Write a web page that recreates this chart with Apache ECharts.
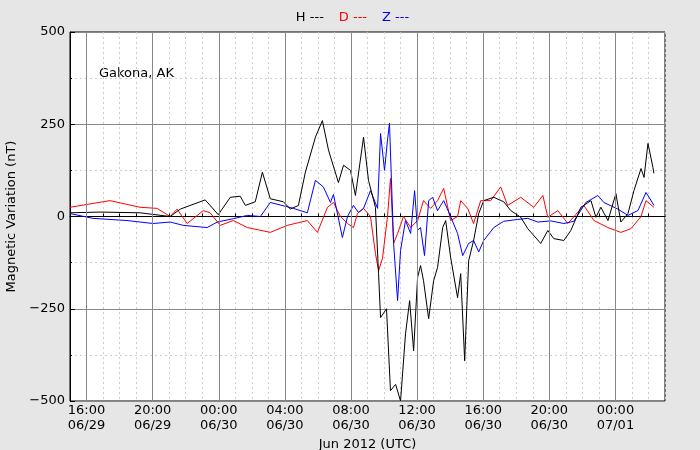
<!DOCTYPE html>
<html><head><meta charset="utf-8">
<script src="https://cdn.jsdelivr.net/npm/echarts@6/dist/echarts.min.js"></script>
<style>html,body{margin:0;background:#e6e6e6}#c{width:700px;height:450px}</style>
</head><body><div id="c"></div>
<script>
// hours since 15:00 UTC 06/29/2012
const hT=[0,1.82,4.24,6.06,6.67,8.18,8.97,9.70,10.30,10.61,11.21,11.64,12.12,12.91,13.33,13.82,14.24,14.85,15.27,15.64,16.24,16.55,16.97,17.27,17.76,18.06,18.48,18.67,18.79,19.15,19.39,19.70,20.00,20.30,20.55,20.79,21.03,21.21,21.39,21.70,22.00,22.24,22.55,22.73,23.03,23.45,23.64,23.88,24.12,24.42,24.73,25.03,25.64,26.24,26.67,27.27,27.70,28.48,28.91,29.27,29.88,30.30,30.91,31.52,31.82,32.12,32.55,33.03,33.33,33.76,34.12,34.55,34.73,34.97,35.27,35.33];
const hV=[10,12,10,0,20,45,5,52,55,30,40,120,48,40,20,30,120,215,260,180,92,139,125,57,215,98,25,-155,-274,-250,-472,-455,-500,-318,-228,-364,-165,-133,-174,-277,-174,-138,-30,-11,-111,-220,-155,-391,-120,-65,8,43,52,40,16,-2,-33,-73,-38,-60,-65,-38,25,43,-2,25,-11,62,-15,8,70,130,106,198,133,117];
const dT=[0,2.42,4.24,5.27,6.06,6.48,7.09,8.06,8.48,9.09,9.88,10.73,12.12,13.15,14.36,14.97,15.58,15.94,16.36,16.79,17.15,17.39,17.76,18.18,18.48,18.67,18.91,19.21,19.39,19.58,19.82,20.18,20.61,21.03,21.39,21.82,22.24,22.61,23.03,23.45,23.64,24.06,24.42,24.85,25.45,26.06,26.48,27.27,28.06,28.61,28.91,29.52,30.12,31.09,31.70,32.55,33.33,33.94,34.55,34.85,35.33];
const dV=[25,43,25,22,0,20,-19,16,10,-24,-11,-30,-43,-24,-11,-43,25,38,0,-19,-30,8,22,0,-100,-147,-113,0,103,-73,-46,0,-30,-11,43,22,43,76,-11,0,43,22,-19,43,43,80,30,52,25,57,-2,16,-19,30,-11,-30,-43,-33,0,43,25];
const zT=[0,1.39,3.45,5.03,6.06,6.85,8.30,8.91,9.88,10.73,11.52,12.12,13.52,14.36,14.85,15.33,15.76,15.94,16.48,16.79,17.15,17.45,17.76,18.18,18.61,18.79,19.03,19.21,19.33,19.58,19.82,20.00,20.30,20.61,20.85,21.03,21.21,21.45,21.70,21.94,22.24,22.61,23.03,23.45,23.76,24.12,24.42,24.73,25.03,25.64,26.24,27.09,27.70,28.30,29.09,29.88,30.48,31.21,31.94,32.30,33.15,33.76,34.36,34.85,35.15,35.33];
const zV=[8,-5,-11,-19,-15,-24,-30,-15,-6,3,0,38,22,10,98,80,38,60,-57,0,30,11,22,70,22,225,125,207,253,-73,-228,-92,-11,-46,70,-37,-30,-106,43,52,16,43,0,-46,-106,-73,-65,-96,-65,-30,-13,-8,-5,-15,-12,-19,-13,38,57,38,20,3,16,65,44,30];
const majorTicks=[16,20,24,28,32,36,40,44,48]; // hours since 00:00 06/29
const seriesNames=['H','D','Z'];
const colors=['#000000','#ff0000','#0000ff'];
const START=15;
const pairs=(t,v)=>t.map((x,i)=>[x+START,v[i]]);
const font='DejaVu Sans';
const chart=echarts.init(document.getElementById('c'));
const fmtX=v=>{if(v%4!==0)return '';const hh=v%24,d=29+Math.floor(v/24);const date=d<=30?'06/'+d:'07/'+String(d-30).padStart(2,'0');return String(hh).padStart(2,'0')+':00\n'+date;};
chart.setOption({
  animation:false,
  textStyle:{fontFamily:font},
  legend:{top:6,left:'center',icon:'none',itemGap:10,itemWidth:0,
    data:seriesNames.map((n,i)=>({name:n,textStyle:{color:colors[i]}})),
    formatter:n=>n+' ---',textStyle:{fontFamily:font,fontSize:13}},
  grid:{left:70,right:35,top:32,bottom:49,containLabel:false,outerBoundsMode:'none',show:true,backgroundColor:'#fff',borderColor:'#000',borderWidth:1},
  xAxis:{type:'value',min:15,max:51,interval:1,name:'Jun 2012 (UTC)',nameLocation:'middle',nameGap:33,
    nameTextStyle:{color:'#000',fontSize:13,fontFamily:font},
    axisLine:{lineStyle:{color:'#000'}},axisTick:{inside:true,length:3,lineStyle:{color:'#000'}},
    axisLabel:{formatter:fmtX,color:'#000',fontSize:13,fontFamily:font,lineHeight:15,margin:2,showMinLabel:false,showMaxLabel:false},
    splitLine:{show:true,lineStyle:{color:'#cfcfcf',type:[2,3]}}},
  yAxis:{type:'value',min:-500,max:500,interval:250,name:'Magnetic Variation (nT)',nameLocation:'middle',nameGap:22,
    nameTextStyle:{color:'#000',fontSize:13,fontFamily:font},
    axisLine:{lineStyle:{color:'#000'}},axisTick:{inside:true,length:5,lineStyle:{color:'#000'}},
    axisLabel:{color:'#000',fontSize:13,fontFamily:font,margin:5,formatter:v=>v<0?'\u2212'+(-v):String(v)},
    splitLine:{lineStyle:{color:'#888',width:1}},
    minorTick:{show:true,splitNumber:2,length:2},
    minorSplitLine:{show:true,lineStyle:{color:'#cfcfcf',type:[2,3]}}},
  graphic:[{type:'text',left:99,top:67,style:{text:'Gakona, AK',font:'13px DejaVu Sans',fill:'#000'}}],
  series:[
    {name:'H',type:'line',data:pairs(hT,hV),showSymbol:false,lineStyle:{color:colors[0],width:1},itemStyle:{color:colors[0]},z:3,
      markLine:{silent:true,symbol:'none',label:{show:false},lineStyle:{color:'#888',type:'solid',width:1},data:majorTicks.map(x=>({xAxis:x}))}},
    {name:'D',type:'line',data:pairs(dT,dV),showSymbol:false,lineStyle:{color:colors[1],width:1},itemStyle:{color:colors[1]},z:2},
    {name:'Z',type:'line',data:pairs(zT,zV),showSymbol:false,lineStyle:{color:colors[2],width:1},itemStyle:{color:colors[2]},z:2}
  ]
});
</script></body></html>
